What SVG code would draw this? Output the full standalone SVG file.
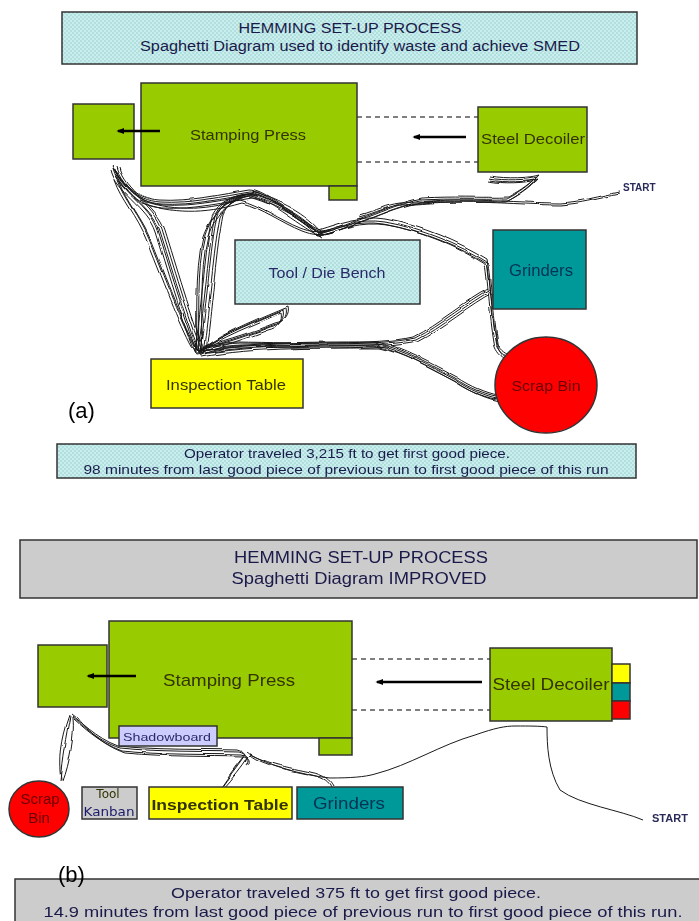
<svg xmlns="http://www.w3.org/2000/svg" xmlns:xlink="http://www.w3.org/1999/xlink" width="699" height="921" viewBox="0 0 699 921">
<defs>
<pattern id="dots" width="4" height="4" patternUnits="userSpaceOnUse">
<rect width="4" height="4" fill="#c8eeee"/>
<rect width="2" height="2" fill="#b2dede"/>
<rect x="2" y="2" width="2" height="2" fill="#b2dede"/>
</pattern>
<marker id="ah" viewBox="0 0 10 10" refX="8" refY="5" markerWidth="3.2" markerHeight="3.2" orient="auto">
<path d="M0,1 L10,5 L0,9 Z" fill="#000"/>
</marker>
<filter id="wob" x="-5%" y="-5%" width="110%" height="110%">
<feTurbulence type="fractalNoise" baseFrequency="0.035" numOctaves="2" seed="3" result="n"/>
<feDisplacementMap in="SourceGraphic" in2="n" scale="4" xChannelSelector="R" yChannelSelector="G"/>
</filter>
<style>
.t{font-family:"Liberation Sans",Arial,sans-serif;text-anchor:middle}
.box{stroke:#333;stroke-width:1.5}
.g{fill:#99cc00}
.dash{stroke:#000;stroke-width:1.2;stroke-dasharray:5,4;fill:none}
.arr{stroke:#000;stroke-width:2.5;fill:none}
.sp{fill:none;stroke:#1a1a1a;stroke-width:1}
</style>
<g id="spa">
<path id="a1" d="M113,168 C118,190 150,205 158,230 C168,262 185,320 198,352"/>
<path id="a2" d="M113,168 C125,185 135,200 160,202 C190,204 225,196 250,192 C265,192 290,215 320,232"/>
<path id="a3" d="M198,352 C205,300 208,250 215,215 C222,200 238,193 252,194"/>
<path id="a4" d="M250,194 C270,200 300,212 318,233 C330,232 345,225 360,220 C380,213 395,205 420,200 C450,198 480,200 507,199 C520,192 530,185 537,177 C528,180 505,181 488,178"/>
<path id="a5" d="M620,192 C600,196 580,202 560,203 C530,203 500,200 460,200 C430,200 410,203 400,203 C385,205 378,210 360,215"/>
<path id="a6" d="M318,233 C340,226 360,218 385,222 C420,228 460,245 487,262 C490,280 492,320 497,345 C500,352 505,356 510,358"/>
<path id="a7" d="M490,290 C470,300 440,325 415,338 C380,346 300,344 240,343 C220,344 205,347 198,352"/>
<path id="a8" d="M198,352 C250,342 330,343 375,343 C400,348 430,365 455,378 C470,388 485,394 496,396"/>
<path id="a9" d="M198,352 C220,335 260,320 283,310 C285,318 280,325 270,327 C250,335 225,343 200,350"/>
<path id="a10" d="M198,352 C200,320 196,270 205,235 C212,215 225,200 245,195"/>
<path id="a11" d="M198,352 C185,330 170,290 150,240 C140,215 125,200 118,180"/>
<path id="a12" d="M140,200 C170,210 200,212 240,200 C260,205 280,220 300,228 C310,232 320,233 330,230"/>
</g>
</defs>

<g id="header-a">
<rect x="62" y="12" width="575" height="52" fill="url(#dots)" class="box"/>
<text class="t" x="350" y="33" font-size="14" fill="#1a1a4a" textLength="223" lengthAdjust="spacingAndGlyphs">HEMMING SET-UP PROCESS</text>
<text class="t" x="360" y="51" font-size="14" fill="#1a1a4a" textLength="440" lengthAdjust="spacingAndGlyphs">Spaghetti Diagram used to identify waste and achieve SMED</text>
</g>

<g id="connectors-a">
<line class="dash" x1="357" y1="117" x2="478" y2="117"/>
<line class="dash" x1="357" y1="162" x2="478" y2="162"/>
<g class="sp" filter="url(#wob)">
<use xlink:href="#a1"/><use xlink:href="#a1" transform="translate(2,1)"/><use xlink:href="#a1" transform="translate(-2,2)"/><use xlink:href="#a1" transform="translate(4,-1)"/><use xlink:href="#a1" transform="translate(7,0)"/>
<use xlink:href="#a2"/><use xlink:href="#a2" transform="translate(1,2)"/><use xlink:href="#a2" transform="translate(-1,-2)"/><use xlink:href="#a2" transform="translate(3,3)"/><use xlink:href="#a2" transform="translate(2,6)"/>
<use xlink:href="#a3"/><use xlink:href="#a3" transform="translate(2,0)"/><use xlink:href="#a3" transform="translate(-3,1)"/><use xlink:href="#a3" transform="translate(5,2)"/><use xlink:href="#a3" transform="translate(8,-1)"/>
<use xlink:href="#a4"/><use xlink:href="#a4" transform="translate(1,2)"/><use xlink:href="#a4" transform="translate(-1,3)"/><use xlink:href="#a4" transform="translate(2,-2)"/>
<use xlink:href="#a5"/><use xlink:href="#a5" transform="translate(0,2)"/>
<use xlink:href="#a6"/><use xlink:href="#a6" transform="translate(2,3)"/><use xlink:href="#a6" transform="translate(-2,2)"/><use xlink:href="#a6" transform="translate(0,-3)"/>
<use xlink:href="#a7"/><use xlink:href="#a7" transform="translate(1,2)"/><use xlink:href="#a7" transform="translate(-2,-1)"/><use xlink:href="#a7" transform="translate(2,4)"/>
<use xlink:href="#a8"/><use xlink:href="#a8" transform="translate(1,2)"/><use xlink:href="#a8" transform="translate(2,-1)"/><use xlink:href="#a8" transform="translate(-1,3)"/><use xlink:href="#a8" transform="translate(3,5)"/>
<use xlink:href="#a9"/><use xlink:href="#a9" transform="translate(3,-2)"/><use xlink:href="#a9" transform="translate(-2,3)"/><use xlink:href="#a9" transform="translate(5,-4)"/>
<use xlink:href="#a10"/><use xlink:href="#a10" transform="translate(3,1)"/><use xlink:href="#a10" transform="translate(-2,2)"/>
<use xlink:href="#a11"/><use xlink:href="#a11" transform="translate(2,2)"/><use xlink:href="#a11" transform="translate(-3,0)"/>
<use xlink:href="#a12"/><use xlink:href="#a12" transform="translate(2,3)"/>
</g>
</g>

<g id="press-a">
<rect x="141" y="83" width="216" height="103" class="box g"/>
<rect x="329" y="186" width="28" height="14" class="box g"/>
<text class="t" x="248" y="140" font-size="14" fill="#333300" textLength="116" lengthAdjust="spacingAndGlyphs">Stamping Press</text>
</g>
<g id="outbox-a">
<rect x="73" y="104" width="61" height="55" class="box g"/>
</g>
<line class="arr" x1="160" y1="131" x2="118" y2="131" marker-end="url(#ah)"/>
<line class="arr" x1="466" y1="137" x2="414" y2="137" marker-end="url(#ah)"/>
<g id="decoiler-a">
<rect x="478" y="107" width="109" height="65" class="box g"/>
<text class="t" x="533" y="144" font-size="15" fill="#333300" textLength="104" lengthAdjust="spacingAndGlyphs">Steel Decoiler</text>
</g>
<text id="start-a" x="623" y="191" font-family="Liberation Sans,Arial,sans-serif" font-size="10" font-weight="bold" fill="#2a2a5a">START</text>
<g id="bench-a">
<rect x="235" y="240" width="185" height="64" fill="url(#dots)" class="box"/>
<text class="t" x="327" y="278" font-size="14" fill="#2a2a6a" textLength="117" lengthAdjust="spacingAndGlyphs">Tool / Die Bench</text>
</g>
<g id="grinders-a">
<rect x="493" y="230" width="93" height="79" fill="#009999" class="box"/>
<text class="t" x="541" y="276" font-size="16" fill="#003355" textLength="64" lengthAdjust="spacingAndGlyphs">Grinders</text>
</g>
<g id="scrap-a">
<ellipse cx="546" cy="385" rx="51" ry="48" fill="#ff0000" class="box"/>
<text class="t" x="546" y="391" font-size="15" fill="#660000" textLength="69" lengthAdjust="spacingAndGlyphs">Scrap Bin</text>
</g>
<g id="inspect-a">
<rect x="151" y="359" width="152" height="49" fill="#ffff00" class="box"/>
<text class="t" x="226" y="390" font-size="15" fill="#333300" textLength="120" lengthAdjust="spacingAndGlyphs">Inspection Table</text>
</g>
<text x="68" y="418" font-family="Liberation Sans,Arial,sans-serif" font-size="22" fill="#000">(a)</text>

<g id="info-a">
<rect x="57" y="444" width="579" height="34" fill="url(#dots)" class="box"/>
<text class="t" x="347" y="458" font-size="13" fill="#1a1a4a" textLength="326" lengthAdjust="spacingAndGlyphs">Operator traveled 3,215 ft to get first good piece.</text>
<text class="t" x="346" y="474" font-size="13" fill="#1a1a4a" textLength="525" lengthAdjust="spacingAndGlyphs">98 minutes from last good piece of previous run to first good piece of this run</text>
</g>

<g id="header-b">
<rect x="20" y="540" width="677" height="58" fill="#cccccc" class="box"/>
<text class="t" x="361" y="563" font-size="16" fill="#1a1a4a" textLength="254" lengthAdjust="spacingAndGlyphs">HEMMING SET-UP PROCESS</text>
<text class="t" x="359" y="584" font-size="16" fill="#1a1a4a" textLength="255" lengthAdjust="spacingAndGlyphs">Spaghetti Diagram IMPROVED</text>
</g>

<g id="connectors-b">
<line class="dash" x1="352" y1="659" x2="490" y2="659"/>
<line class="dash" x1="352" y1="710" x2="490" y2="710"/>
<g class="sp" filter="url(#wob)">
<path d="M70,716 C66,735 62,760 60,781 M72,717 C74,735 68,765 62,781 M69,715 C60,740 58,760 61,780"/>
<path d="M72,716 C80,722 95,740 120,748 C160,752 200,751 240,752 C248,754 250,760 246,765"/>
<path d="M73,718 C82,726 98,742 122,751 C162,755 202,754 242,755 C250,757 251,762 247,766"/>
<path d="M71,714 C79,720 96,738 118,746 C158,750 198,749 238,750 C246,752 248,756 245,762"/>
<path d="M76,716 C86,728 100,744 125,753 C170,757 205,756 244,757"/>
<path d="M245,755 C238,765 228,778 220,789 M248,756 C241,767 232,778 222,789 M243,757 C234,768 226,780 219,790"/>
<path d="M248,752 C260,762 290,768 310,772 C325,775 330,780 333,786 M250,755 C262,765 292,771 312,775 C325,778 329,782 331,787"/>
</g>
<path class="sp" d="M250,755 C270,765 300,775 330,778 C350,778 365,777 375,774 C410,765 440,745 475,735 C495,728 505,726 515,726 C530,726 540,726 547,727 C547,745 548,770 560,790 C580,805 620,810 643,820"/>
</g>

<g id="press-b">
<rect x="109" y="621" width="243" height="117" class="box g"/>
<rect x="319" y="738" width="33" height="17" class="box g"/>
<text class="t" x="229" y="686" font-size="17" fill="#333300" textLength="132" lengthAdjust="spacingAndGlyphs">Stamping Press</text>
</g>
<g id="outbox-b">
<rect x="38" y="645" width="69" height="62" class="box g"/>
</g>
<line class="arr" x1="136" y1="676" x2="88" y2="676" marker-end="url(#ah)"/>
<line class="arr" x1="482" y1="682" x2="377" y2="682" marker-end="url(#ah)"/>
<g id="shadowboard-b">
<rect x="119" y="726" width="98" height="20" fill="#ccccff" class="box"/>
<text class="t" x="167" y="741" font-size="11.5" fill="#2a2a6a" textLength="88" lengthAdjust="spacingAndGlyphs">Shadowboard</text>
</g>
<g id="decoiler-b">
<rect x="490" y="648" width="122" height="73" class="box g"/>
<text class="t" x="551" y="690" font-size="17" fill="#333300" textLength="117" lengthAdjust="spacingAndGlyphs">Steel Decoiler</text>
</g>
<g id="swatches-b">
<rect x="612" y="664" width="18" height="19" fill="#ffff00" class="box"/>
<rect x="612" y="683" width="18" height="18" fill="#009999" class="box"/>
<rect x="612" y="701" width="18" height="18" fill="#ff0000" class="box"/>
</g>
<text id="start-b" x="652" y="822" font-family="Liberation Sans,Arial,sans-serif" font-size="11" font-weight="bold" fill="#2a2a5a">START</text>
<g id="scrap-b">
<ellipse cx="39" cy="809" rx="30" ry="28" fill="#ff0000" class="box"/>
<text class="t" x="40" y="804" font-size="15" fill="#660000">Scrap</text>
<text class="t" x="39" y="823" font-size="15" fill="#660000">Bin</text>
</g>
<g id="kanban-b">
<rect x="82" y="787" width="55" height="32" fill="#cccccc" class="box"/>
<text class="t" x="108" y="798" font-size="12" fill="#333300" style="font-family:'DejaVu Sans',sans-serif">Tool</text>
<text class="t" x="109" y="816" font-size="12" fill="#1a1a6a" style="font-family:'DejaVu Sans',sans-serif" textLength="51" lengthAdjust="spacingAndGlyphs">Kanban</text>
</g>
<g id="inspect-b">
<rect x="149" y="787" width="143" height="32" fill="#ffff00" class="box"/>
<text class="t" x="220" y="810" font-size="15" font-weight="bold" fill="#333300" textLength="137" lengthAdjust="spacingAndGlyphs">Inspection Table</text>
</g>
<g id="grinders-b">
<rect x="297" y="787" width="106" height="32" fill="#009999" class="box"/>
<text class="t" x="349" y="809" font-size="17" fill="#003355" textLength="72" lengthAdjust="spacingAndGlyphs">Grinders</text>
</g>

<g id="info-b">
<rect x="15" y="879" width="690" height="50" fill="#cccccc" class="box"/>
<text class="t" x="356" y="898" font-size="15" fill="#1a1a4a" textLength="370" lengthAdjust="spacingAndGlyphs">Operator traveled 375 ft to get first good piece.</text>
<text class="t" x="363" y="917" font-size="15" fill="#1a1a4a" textLength="639" lengthAdjust="spacingAndGlyphs">14.9 minutes from last good piece of previous run to first good piece of this run.</text>
</g>
<text x="58" y="882" font-family="Liberation Sans,Arial,sans-serif" font-size="22" fill="#000">(b)</text>
</svg>
